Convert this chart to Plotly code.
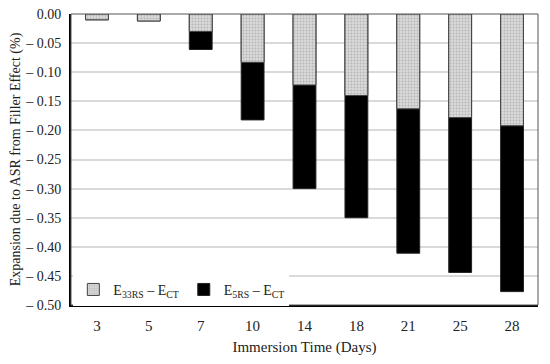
import plotly.graph_objects as go

days = ["3", "5", "7", "10", "14", "18", "21", "25", "28"]
e33_minus_ct = [-0.010, -0.012, -0.030, -0.083, -0.122, -0.140, -0.163, -0.178, -0.192]
e5_minus_ct = [-0.010, -0.012, -0.061, -0.182, -0.300, -0.350, -0.411, -0.444, -0.477]
ytick_vals = [0.0, -0.05, -0.10, -0.15, -0.20, -0.25, -0.30, -0.35, -0.40, -0.45, -0.50]
ytick_text = ["0.00"] + ["\u2013 %.2f" % abs(v) for v in ytick_vals[1:]]

font = "Liberation Serif"
tickfam = "Times New Roman, Liberation Serif, serif"
tcol = "#222"

fig = go.Figure()
fig.add_trace(go.Bar(
    x=days, y=e5_minus_ct, name="E<sub>5RS</sub> \u2013 E<sub>CT</sub>",
    marker=dict(color="black", line=dict(color="#222", width=1)),
    width=0.44,
))
fig.add_trace(go.Bar(
    x=days, y=e33_minus_ct, name="E<sub>33RS</sub> \u2013 E<sub>CT</sub>",
    marker=dict(color="#cfcfcf", line=dict(color="#444", width=1),
                pattern=dict(shape=".", fgcolor="#8f8f8f", bgcolor="#dadada", size=3, solidity=0.35)),
    width=0.44,
))

# page body has an 8px margin, so the figure is sized to fit the 550x364 window
fig.update_layout(
    barmode="overlay",
    width=534, height=348,
    margin=dict(l=63, r=4, t=6, b=51, autoexpand=False),
    paper_bgcolor="white", plot_bgcolor="white",
    font=dict(family=font, size=15, color=tcol),
    legend=dict(orientation="h", traceorder="reversed", x=0.005, y=0.052, xanchor="left", yanchor="middle",
                bgcolor="white", font=dict(family=font, size=14, color=tcol), itemwidth=30, tracegroupgap=0),
    xaxis=dict(
        type="category", automargin=True, showline=True, linecolor="black", linewidth=2,
        mirror=False, ticks="", ticklabelstandoff=6, tickfont=dict(family=tickfam, size=15, color=tcol),
        title=dict(text="Immersion Time (Days)", font=dict(family=font, size=15, color=tcol), standoff=12),
    ),
    yaxis=dict(
        range=[-0.5, 0], tickvals=ytick_vals, ticktext=ytick_text, automargin=True,
        ticklabeloverflow="allow",
        showline=True, linecolor="black", linewidth=2,
        showgrid=True, gridcolor="#d9d9d9", gridwidth=1.5, zeroline=False,
        ticks="", ticklabelstandoff=5, tickfont=dict(family=tickfam, size=14, color=tcol),
        title=dict(text="Expansion due to ASR from Filler Effect (%)", font=dict(family=font, size=14, color=tcol), standoff=4),
    ),
    showlegend=True,
)
fig.add_shape(type="rect", xref="paper", yref="paper", x0=0, y0=0, x1=1, y1=1,
              line=dict(color="#555", width=1), layer="above")

fig.write_html("out.html")
